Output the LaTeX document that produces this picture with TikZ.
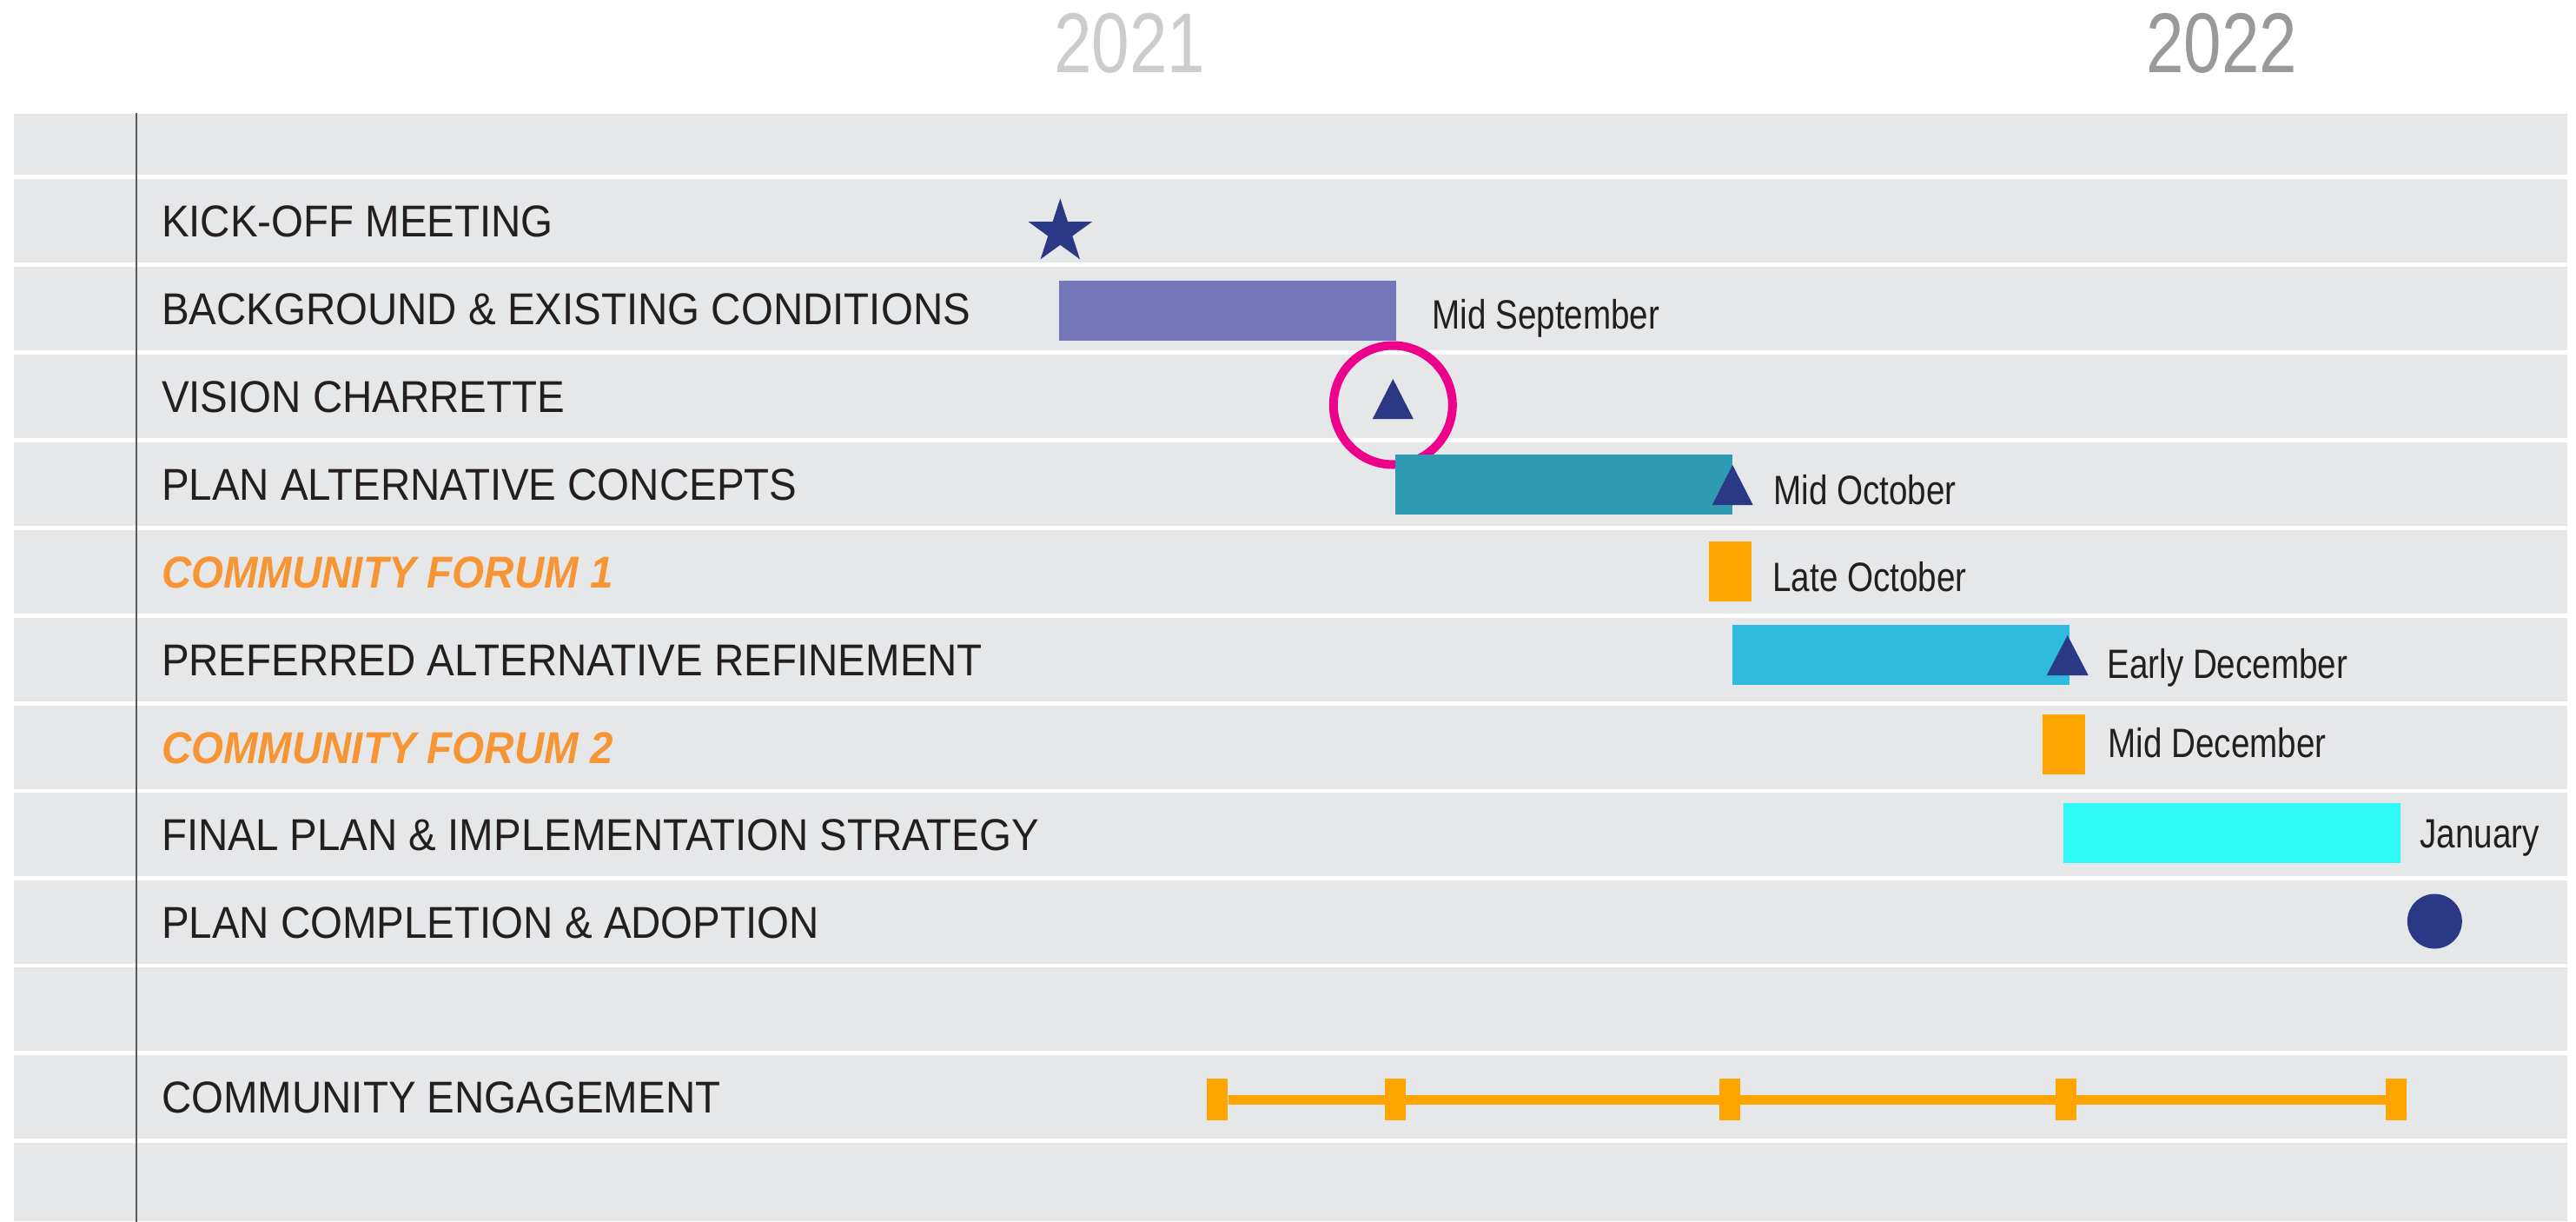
\documentclass[tikz,border=0pt]{standalone}
\usepackage{fontspec}
\setmainfont{Liberation Sans}
\newfontfamily\rowfont[FakeStretch=0.925]{Liberation Sans}
\newfontfamily\datefont[FakeStretch=0.82]{Liberation Sans}
\newfontfamily\yearfont[FakeStretch=0.8]{Liberation Sans}
\usetikzlibrary{calc,shapes.geometric}

\definecolor{bandgray}{RGB}{230,231,232}
\definecolor{inkblack}{RGB}{35,31,32}
\definecolor{axisgray}{RGB}{88,89,91}
\definecolor{navy}{RGB}{43,56,134}
\definecolor{bgpurple}{RGB}{116,120,187}
\definecolor{altteal}{RGB}{46,155,179}
\definecolor{prefblue}{RGB}{47,186,224}
\definecolor{finalcyan}{RGB}{46,250,246}
\definecolor{engorange}{RGB}{255,164,0}
\definecolor{forumorange}{RGB}{247,148,51}
\definecolor{focusmagenta}{RGB}{236,0,140}

\tikzset{
  rowband/.style={rectangle,fill=bandgray,minimum width=293.9mm,minimum height=9.6mm,inner sep=0},
  tasklabel/.style={anchor=base west,inner sep=0,text=inkblack,font=\rowfont\fontsize{14.6pt}{16pt}\selectfont},
  forumlabel/.style={tasklabel,text=forumorange,font=\rowfont\bfseries\itshape\fontsize{14.6pt}{16pt}\selectfont},
  taskbar/.style={rectangle,anchor=west,minimum height=6.9mm,minimum width=38.8mm,inner sep=0},
  datelabel/.style={anchor=base west,inner sep=0,text=inkblack,font=\datefont\fontsize{13.4pt}{15pt}\selectfont},
  yearlabel/.style={anchor=base,inner sep=0,font=\yearfont\fontsize{27.8pt}{30pt}\selectfont},
  engtick/.style={rectangle,fill=engorange,minimum width=2.4mm,minimum height=4.8mm,inner sep=0}
}

\begin{document}
\begin{tikzpicture}
\useasboundingbox (0,0) rectangle (296.5mm,-140.5mm);

\draw node [rowband,minimum height=7mm](r0) at (148.55mm,-16.6mm){};
\draw node [rowband](r1) at (148.55mm,-25.4mm){};
\draw node [rowband](r2) at (148.55mm,-35.5mm){};
\draw node [rowband](r3) at (148.55mm,-45.6mm){};
\draw node [rowband](r4) at (148.55mm,-55.7mm){};
\draw node [rowband](r5) at (148.55mm,-65.8mm){};
\draw node [rowband](r6) at (148.55mm,-75.9mm){};
\draw node [rowband](r7) at (148.55mm,-85.95mm){};
\draw node [rowband](r8) at (148.55mm,-96mm){};
\draw node [rowband](r9) at (148.55mm,-106.05mm){};
\draw node [rowband](r10) at (148.55mm,-116.1mm){};
\draw node [rowband](r11) at (148.55mm,-126.2mm){};
\draw node [rowband,minimum height=9mm](r12) at (148.55mm,-136mm){};

\draw[axisgray,line width=0.15mm] ($ (r0.north west)+(14.15mm,0mm) $) -- ($ (r12.south west)+(14.15mm,0mm) $);

\draw node [yearlabel,text=black!20](y2021) at ($ (r0.north west)+(128.5mm,4.7mm) $){2021};
\draw node [yearlabel,text=black!40](y2022) at ($ (r0.north west)+(254.2mm,4.7mm) $){2022};

\draw node [tasklabel](kickoff) at ($ (r1.west)+(17mm,-1.85mm) $){KICK-OFF MEETING};
\draw node [tasklabel](background) at ($ (r2.west)+(17mm,-1.85mm) $){BACKGROUND \& EXISTING CONDITIONS};
\draw node [tasklabel](vision) at ($ (r3.west)+(17mm,-1.85mm) $){VISION CHARRETTE};
\draw node [tasklabel](concepts) at ($ (r4.west)+(17mm,-1.85mm) $){PLAN ALTERNATIVE CONCEPTS};
\draw node [forumlabel](forum1) at ($ (r5.west)+(17mm,-1.85mm) $){COMMUNITY FORUM 1};
\draw node [tasklabel](refine) at ($ (r6.west)+(17mm,-1.85mm) $){PREFERRED ALTERNATIVE REFINEMENT};
\draw node [forumlabel](forum2) at ($ (r7.west)+(17mm,-1.85mm) $){COMMUNITY FORUM 2};
\draw node [tasklabel](strategy) at ($ (r8.west)+(17mm,-1.85mm) $){FINAL PLAN \& IMPLEMENTATION STRATEGY};
\draw node [tasklabel](adoption) at ($ (r9.west)+(17mm,-1.85mm) $){PLAN COMPLETION \& ADOPTION};
\draw node [tasklabel](engagement) at ($ (r11.west)+(17mm,-1.85mm) $){COMMUNITY ENGAGEMENT};

\draw node [star,star points=5,star point ratio=2.618,minimum size=7.74mm,inner sep=0,fill=navy](kickstar) at ($ (r1.west)+(120.5mm,-1.3mm) $){};

\draw node [taskbar,fill=bgpurple](bgbar) at ($ (r2.west)+(120.3mm,-0.25mm) $){};
\draw node [datelabel](bgdate) at ($ (bgbar.east)+(4mm,-2.05mm) $){Mid September};

\draw node [circle,draw=focusmagenta,line width=1mm,minimum size=13.7mm,inner sep=0](focus) at ($ (r3.west)+(158.8mm,-1mm) $){};
\fill[navy] ($ (focus)+(-2.35mm,-1.6mm) $) -- ($ (focus)+(2.35mm,-1.6mm) $) -- ($ (focus)+(0mm,3mm) $) -- cycle;

\draw node [taskbar,fill=altteal](altbar) at ($ (r4.west)+(159mm,-0.05mm) $){};
\fill[navy] ($ (altbar.east)+(-2.4mm,-2.35mm) $) -- ($ (altbar.east)+(2.3mm,-2.35mm) $) -- ($ (altbar.east)+(-0.05mm,2.25mm) $) -- cycle;
\draw node [datelabel](altdate) at ($ (altbar.east)+(4.6mm,-2.25mm) $){Mid October};

\draw node [taskbar,fill=engorange,minimum width=4.9mm](cf1) at ($ (r5.west)+(195.1mm,0.05mm) $){};
\draw node [datelabel](cf1date) at ($ (cf1.east)+(2.3mm,-2.25mm) $){Late October};

\draw node [taskbar,fill=prefblue](prefbar) at ($ (r6.west)+(197.8mm,0.55mm) $){};
\fill[navy] ($ (prefbar.east)+(-2.7mm,-2.35mm) $) -- ($ (prefbar.east)+(2.1mm,-2.35mm) $) -- ($ (prefbar.east)+(-0.3mm,2.25mm) $) -- cycle;
\draw node [datelabel](prefdate) at ($ (prefbar.east)+(4.2mm,-2.65mm) $){Early December};

\draw node [taskbar,fill=engorange,minimum width=4.9mm](cf2) at ($ (r7.west)+(233.5mm,0.3mm) $){};
\draw node [datelabel](cf2date) at ($ (cf2.east)+(2.5mm,-1.45mm) $){Mid December};

\draw node [taskbar,fill=finalcyan](finalbar) at ($ (r8.west)+(235.9mm,0.15mm) $){};
\draw node [datelabel](finaldate) at ($ (finalbar.east)+(2.1mm,-1.65mm) $){January};

\draw node [circle,fill=navy,minimum size=6.3mm,inner sep=0](done) at ($ (r9.west)+(278.7mm,0.05mm) $){};

\draw node [engtick](t1) at ($ (r11.west)+(138.6mm,-0.3mm) $){};
\draw node [engtick](t2) at ($ (r11.west)+(159.1mm,-0.3mm) $){};
\draw node [engtick](t3) at ($ (r11.west)+(197.6mm,-0.3mm) $){};
\draw node [engtick](t4) at ($ (r11.west)+(236.3mm,-0.3mm) $){};
\draw node [engtick](t5) at ($ (r11.west)+(274.3mm,-0.3mm) $){};
\draw[engorange,line width=1.1mm] (t1) -- (t5);

\end{tikzpicture}
\end{document}
